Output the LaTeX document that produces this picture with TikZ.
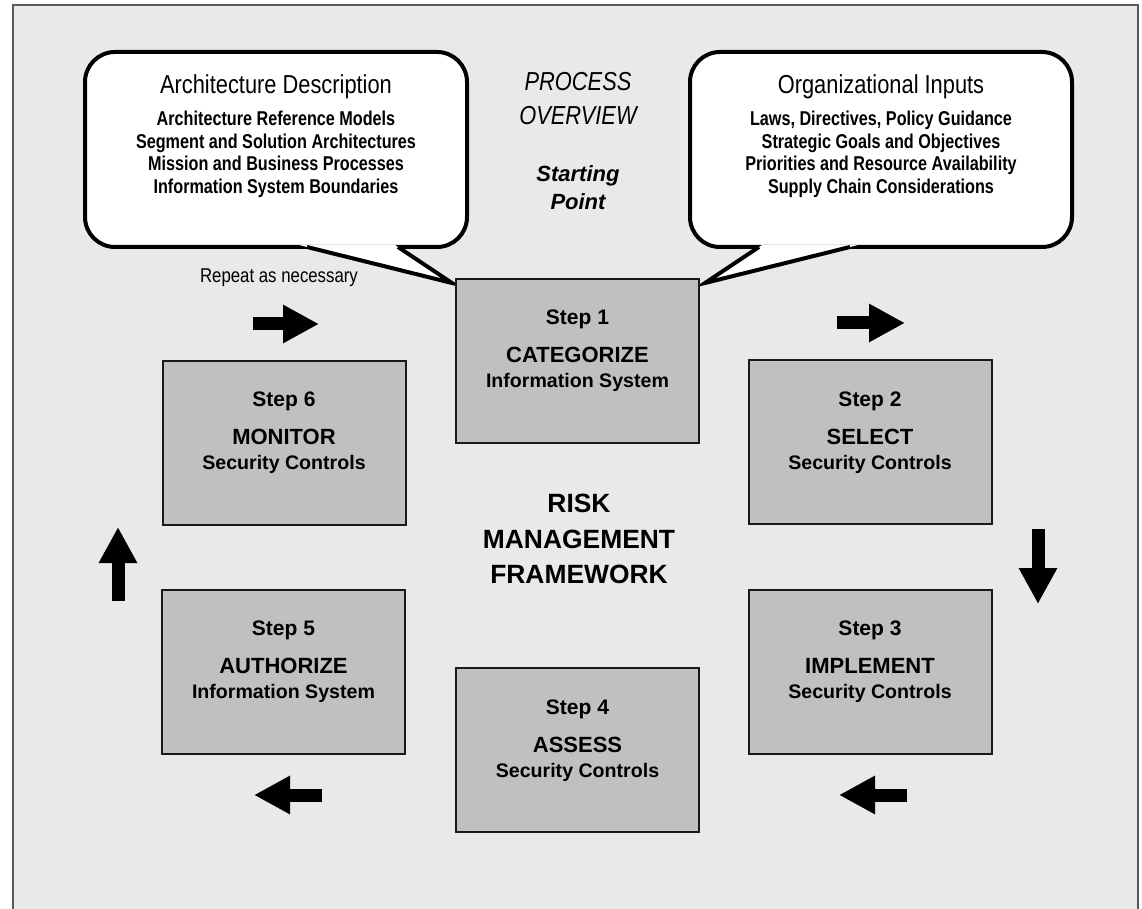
\documentclass[tikz,border=0pt]{standalone}
\usepackage{fontspec}
\setmainfont{Liberation Sans}
\newfontfamily\narrowfont[FakeStretch=0.84]{Liberation Sans}
\newfontfamily\listfont[FakeStretch=0.81]{Liberation Sans}
\usetikzlibrary{arrows.meta, positioning}
\definecolor{panelgray}{HTML}{E9E9E9}
\definecolor{boxgray}{HTML}{C0C0C0}
\definecolor{framegray}{HTML}{5A5A5A}

\begin{document}
\begin{tikzpicture}[
    x=0.5pt, y=-0.5pt,
    stepbox/.style={
        rectangle,
        draw=black!90,
        line width=1pt,
        fill=boxgray,
        minimum width=121.5pt,
        minimum height=82pt
    },
    stepnum/.style={anchor=base, inner sep=0pt, font=\bfseries\fontsize{10.5}{12}\selectfont},
    stepname/.style={anchor=base, inner sep=0pt, font=\bfseries\fontsize{11}{13}\selectfont},
    stepsub/.style={anchor=base, inner sep=0pt, font=\bfseries\fontsize{9.8}{12}\selectfont},
    bubble/.style={draw, line width=2pt, fill=white, rounded corners=15pt},
    tail/.style={draw, line width=2pt, line join=miter},
    bubbletitle/.style={anchor=base, inner sep=0pt, font=\narrowfont\fontsize{13}{15}\selectfont},
    bubblelist/.style={align=center, inner sep=0pt, font=\listfont\bfseries\fontsize{10}{11.2}\selectfont},
    bigtext/.style={align=center, inner sep=0pt, anchor=north},
    blockarrow/.style={line width=6.5pt, -{Triangle[length=18pt, width=18pt]}}
]

\useasboundingbox (0,0) rectangle (1142,909);

% panel
\fill[panelgray] (13,5) rectangle (1138,909);
\draw[framegray, line width=1pt] (13,909) -- (13,5) -- (1138,5) -- (1138,909);

% speech bubbles
\draw[bubble] (85,52) rectangle (467,247);
\fill[white] (299,245) -- (452,283) -- (395,245) -- cycle;
\draw[tail] (307,247) -- (452,283) -- (398,247);

\draw[bubble] (690,52) rectangle (1072,247);
\fill[white] (762,245) -- (705,283) -- (858,245) -- cycle;
\draw[tail] (759,247) -- (705,283) -- (850,247);

\node[bubbletitle] (archtitle) at (276,94) {Architecture Description};
\node[bubblelist, below=8.5pt of archtitle.base] (archlist) {Architecture Reference Models\\Segment and Solution Architectures\\Mission and Business Processes\\Information System Boundaries};

\node[bubbletitle] (orgtitle) at (881,94) {Organizational Inputs};
\node[bubblelist, below=8.5pt of orgtitle.base] (orglist) {Laws, Directives, Policy Guidance\\Strategic Goals and Objectives\\Priorities and Resource Availability\\Supply Chain Considerations};

% middle texts
\node[bigtext, font=\narrowfont\itshape\fontsize{13}{17}\selectfont] (overview) at (578,72) {PROCESS\\OVERVIEW};
\node[bigtext, font=\bfseries\itshape\fontsize{11}{14}\selectfont] (start) at (578,165.5) {Starting\\Point};
\node[bigtext, font=\bfseries\fontsize{13.2}{17.75}\selectfont] (rmf) at (579,494) {RISK\\MANAGEMENT\\FRAMEWORK};
\node[anchor=base, inner sep=0pt, font=\narrowfont\fontsize{10}{12}\selectfont] (repeat) at (279,283) {Repeat as necessary};

% steps
\foreach \nm/\x/\y/\num/\ttl/\sub in {
    step1/577.5/361/1/CATEGORIZE/Information System,
    step2/870/442.5/2/SELECT/Security Controls,
    step3/870/671.5/3/IMPLEMENT/Security Controls,
    step4/577.5/750/4/ASSESS/Security Controls,
    step5/283.5/671.5/5/AUTHORIZE/Information System,
    step6/284/443/6/MONITOR/Security Controls}{
    \node[stepbox] (\nm) at (\x,\y) {};
    \node[stepnum] (\nm-num) at ([yshift=18pt]\nm.center) {Step \num};
    \node[stepname] (\nm-name) at ([yshift=-1pt]\nm.center) {\ttl};
    \node[stepsub] (\nm-sub) at ([yshift=-13.5pt]\nm.center) {\sub};
}

% cycle arrows
\coordinate (to1-s) at (253,324);
\coordinate (to1-e) at (319,324);
\coordinate (to2-s) at (837,323);
\coordinate (to2-e) at (905,323);
\coordinate (to3-s) at (1038,529);
\coordinate (to3-e) at (1038,604);
\coordinate (to4-s) at (907,795);
\coordinate (to4-e) at (839,795);
\coordinate (to5-s) at (322,795);
\coordinate (to5-e) at (254,795);
\coordinate (to6-s) at (118,601);
\coordinate (to6-e) at (118,527);

\draw[blockarrow] (to1-s) -- (to1-e);
\draw[blockarrow] (to2-s) -- (to2-e);
\draw[blockarrow] (to3-s) -- (to3-e);
\draw[blockarrow] (to4-s) -- (to4-e);
\draw[blockarrow] (to5-s) -- (to5-e);
\draw[blockarrow] (to6-s) -- (to6-e);

\end{tikzpicture}
\end{document}
